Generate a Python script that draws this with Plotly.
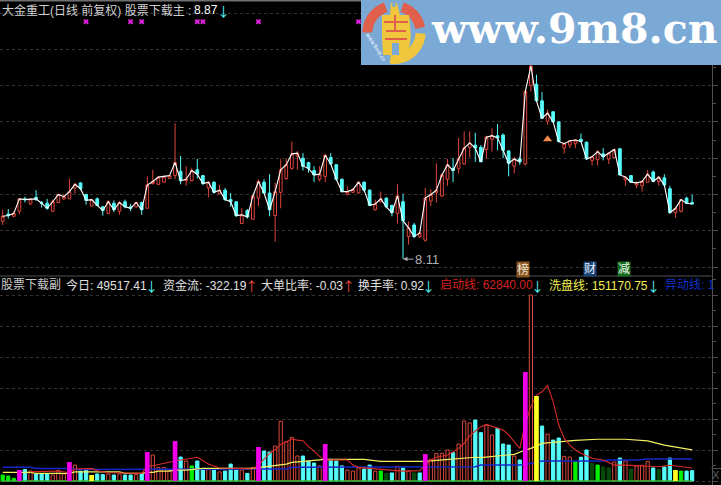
import math
import plotly.graph_objects as go

W, H = 721, 485

# 日K (price)
open_ = [8.63,8.73,8.70,8.77,8.94,8.87,8.96,8.89,8.88,8.77,8.89,8.94,8.94,9.09,9.16,9.00,8.84,8.94,8.83,8.74,8.88,8.77,8.90,8.83,8.83,
         8.89,8.81,9.15,9.14,9.17,9.22,9.26,9.32,9.19,9.19,9.34,9.26,9.09,9.17,9.01,9.06,8.93,8.90,8.60,8.78,8.66,8.95,9.17,9.02,8.71,
         9.03,9.22,9.36,9.53,9.50,9.44,9.33,9.21,9.25,9.51,9.41,9.21,9.00,9.03,9.02,9.17,9.06,8.79,8.90,8.95,8.85,8.74,8.90,8.42,8.58,
         8.42,8.37,8.91,9.03,8.98,9.21,9.36,9.36,9.42,9.65,9.68,9.65,9.62,9.76,9.81,9.82,9.60,9.39,9.49,9.42,10.50,10.52,10.29,10.01,10.14,
         10.00,9.64,9.68,9.70,9.76,9.72,9.47,9.48,9.56,9.49,9.51,9.63,9.20,9.26,9.13,9.12,9.17,9.31,9.18,9.23,9.08,8.75,8.77,8.95,8.89]
high = [8.79,8.80,8.77,8.95,8.97,8.95,9.06,8.91,8.94,8.93,9.01,9.01,9.22,9.16,9.17,9.01,8.94,8.96,8.84,8.92,8.92,8.91,8.93,8.87,8.90,
        8.90,9.25,9.34,9.25,9.26,9.27,9.98,9.53,9.39,9.37,9.49,9.27,9.18,9.18,9.13,9.09,9.02,8.90,8.81,8.80,9.00,9.21,9.21,9.28,9.16,
        9.49,9.50,9.73,9.60,9.57,9.45,9.39,9.39,9.56,9.57,9.42,9.22,9.11,9.09,9.17,9.18,9.07,8.93,9.04,8.96,8.86,9.14,9.01,8.63,8.61,
        8.49,9.09,9.07,9.43,9.29,9.49,9.50,9.78,9.87,9.87,9.85,9.68,9.81,9.91,9.97,9.84,9.61,9.52,9.52,10.43,10.81,10.65,10.41,10.17,10.14,
        10.01,9.72,9.75,9.76,9.84,9.73,9.53,9.61,9.64,9.58,9.62,9.64,9.25,9.26,9.18,9.19,9.34,9.33,9.25,9.28,9.12,8.83,8.94,8.97,9.00]
low = [8.58,8.67,8.69,8.73,8.89,8.86,8.91,8.82,8.79,8.76,8.88,8.93,8.94,9.01,9.06,8.86,8.84,8.84,8.71,8.73,8.76,8.72,8.81,8.77,8.82,
       8.72,8.81,9.14,9.13,9.17,9.22,9.21,9.14,9.12,9.18,9.22,9.13,8.96,9.01,9.00,8.91,8.83,8.69,8.60,8.67,8.65,8.84,9.01,8.70,8.35,
       8.81,9.20,9.34,9.34,9.33,9.30,9.17,9.18,9.17,9.42,9.19,9.03,8.99,9.02,9.01,9.04,8.84,8.78,8.89,8.81,8.70,8.60,8.11,8.31,8.40,
       8.40,8.35,8.84,8.89,8.96,9.12,9.17,9.29,9.41,9.51,9.45,9.45,9.49,9.59,9.61,9.50,9.25,9.29,9.41,9.40,10.42,10.29,10.04,9.96,9.99,
       9.72,9.56,9.64,9.64,9.72,9.48,9.40,9.40,9.47,9.42,9.50,9.27,9.12,9.16,9.09,9.04,9.17,9.17,9.12,9.12,8.74,8.68,8.75,8.87,8.86]
close = [8.70,8.71,8.74,8.94,8.93,8.94,8.94,8.88,8.81,8.90,9.00,8.97,9.04,9.14,9.08,8.92,8.93,8.85,8.78,8.90,8.79,8.89,8.83,8.81,8.89,
         8.79,9.13,9.18,9.24,9.25,9.26,9.44,9.19,9.21,9.33,9.28,9.15,9.17,9.03,9.06,8.93,8.90,8.71,8.72,8.69,8.98,9.18,9.02,8.79,9.04,
         9.34,9.41,9.56,9.57,9.39,9.36,9.27,9.28,9.54,9.42,9.21,9.04,9.04,9.07,9.17,9.06,8.85,8.87,8.94,8.83,8.75,8.98,8.64,8.54,8.42,
         8.47,8.95,9.00,9.06,9.27,9.41,9.33,9.49,9.64,9.71,9.64,9.45,9.79,9.81,9.78,9.61,9.43,9.49,9.45,10.42,10.77,10.29,10.05,10.12,10.00,
         9.73,9.70,9.74,9.75,9.73,9.49,9.52,9.59,9.52,9.57,9.62,9.27,9.24,9.17,9.16,9.18,9.28,9.18,9.24,9.13,8.75,8.81,8.93,8.88,8.87]
days = list(range(len(close)))

signal_days = [15, 23, 25, 35, 36, 46, 64]
signal_level = 11.38
orange_day, orange_price = 98, 9.76
low_day, low_price = 72, 8.11

# 成交量 (千)
volume = [29,24,13,53,56,48,34,34,35,29,52,34,92,77,48,53,29,34,31,34,29,34,29,29,31,
          34,140,126,66,66,50,194,116,97,73,97,53,56,53,44,48,82,53,53,37,65,165,145,140,169,
          289,190,211,121,121,95,87,73,179,105,97,73,53,48,63,58,77,48,48,37,39,71,63,48,39,
          39,131,105,134,134,150,137,179,290,281,295,234,271,223,255,179,174,121,102,527,900,411,266,227,198,
          208,119,116,92,115,150,85,77,68,63,92,111,97,58,73,76,95,63,56,68,111,53,48,48,50]
# R 红空心 C 青 M 品红 Y 黄 G 亮绿 D 暗绿
bar_kind = list("GGGMCRCCCRRRMRCCYCCRCRCCRCMRRRRMCRGCCRCRCCC"
                "RCRMCCRRRRRCCCRMCCCRRRCCRGDCRCRDCMRRRRCRRRCCRRCCCRCMRYCRCCRRGCCDGDDRCRDRRRCDCCYGCC")

start_days = [5,10,12,13,16,17,19,25,26,27,31,33,35,37,39,42,45,46,48,49,50,51,52,53,54,55,56,57,58,59,62,63,64,66,68,70,72,75,76,77,78,80,81,82,83,84,85,
              86,87,88,89,90,91,92,93,94,95,96,97,98,99,100,101,102,103,104,105,106,108,110,112,115,118,120,122,124]
start_line = [45,48,40,58,61,50,40,37,71,74,97,105,115,82,63,61,58,77,134,150,177,190,203,198,195,166,145,118,102,103,102,77,66,61,56,50,48,50,77,102,115,126,142,158,182,218,242,
              263,274,266,255,247,223,190,158,279,360,416,432,463,384,271,206,174,150,134,121,110,102,77,77,73,69,76,69,63]
wash_days = [0,5,6,12,13,21,22,25,26,27,28,30,31,33,36,45,46,47,49,51,52,54,56,58,65,68,75,76,78,80,82,85,86,88,92,94,95,97,100,103,107,112,116,119,124]
wash_line = [42,42,37,37,44,44,37,37,42,42,48,48,53,53,61,61,65,69,76,82,90,94,100,105,105,95,95,95,100,105,108,115,113,118,129,150,158,182,189,197,202,202,194,174,151]
move_days = [0,5,6,12,13,46,47,51,52,58,59,85,86,93,95,97,108,109,114,116,124]
move_line = [66,66,61,61,56,56,58,58,66,66,69,69,77,77,85,97,97,102,102,106,106]

RED = "#e0463c"
CYAN = "#55fcfc"
BAR_FILL = {"R": "#000000", "C": CYAN, "M": "#f000e8", "Y": "#ffff20", "G": "#00f000", "D": "#064a0a"}
BAR_EDGE = {"R": "#d8483c", "C": CYAN, "M": "#f000e8", "Y": "#ffff20", "G": "#00f000", "D": "#064a0a"}
LOGO_BLUE = "#7ba9d6"
LOGO_RED = "#e0604c"
LOGO_YELLOW = "#f0c63c"
TEXT_FONT = "Liberation Sans, Noto Sans CJK SC"
ARROW_FONT = "Noto Sans CJK SC"

PANEL_SPLIT = 276      # 上下图分界
AXIS_X = 711.5


def px(x):
    return x / W


def py(y):
    return 1 - y / H


x_range = [-0.486, (AXIS_X - 2.7) / 5.56]
price_range = [9 + (194.5 - PANEL_SPLIT) / 72.6, 9 + 194.5 / 72.6]
vol_range = [(481 - H) * 4.84, (481 - PANEL_SPLIT) * 4.84]

fig = go.Figure()

fig.add_trace(go.Candlestick(
    x=days, open=open_, high=high, low=low, close=close, whiskerwidth=0,
    increasing=dict(line=dict(color=RED, width=1), fillcolor="#000000"),
    decreasing=dict(line=dict(color=CYAN, width=1), fillcolor=CYAN),
    xaxis="x", yaxis="y", showlegend=False,
))
fig.add_trace(go.Scatter(x=days, y=close, mode="lines", line=dict(color="#ffffff", width=1.1), xaxis="x", yaxis="y"))
fig.add_trace(go.Scatter(x=signal_days, y=[signal_level] * len(signal_days), mode="markers",
                         marker=dict(symbol="x", size=5, color="#e020e0"), xaxis="x", yaxis="y"))
fig.add_trace(go.Scatter(x=[orange_day], y=[orange_price], mode="markers",
                         marker=dict(symbol="triangle-up", size=8, color="#f08848"), xaxis="x", yaxis="y"))

# 下图: 普通柱在线下面, 品红/黄柱盖住线
under = [i for i in days if bar_kind[i] not in "MY"]
over = [i for i in days if bar_kind[i] in "MY"]
fig.add_trace(go.Bar(
    x=under, y=[volume[i] for i in under], width=0.58,
    marker=dict(color=[BAR_FILL[bar_kind[i]] for i in under],
                line=dict(color=[BAR_EDGE[bar_kind[i]] for i in under], width=1)),
    xaxis="x2", yaxis="y2",
))
fig.add_trace(go.Scatter(x=days, y=[0] * len(days), mode="lines", line=dict(color="#38b838", width=1.5), xaxis="x2", yaxis="y2"))
fig.add_trace(go.Scatter(x=move_days, y=move_line, mode="lines", line=dict(color="#1428c8", width=1.5), xaxis="x2", yaxis="y2"))
fig.add_trace(go.Scatter(x=wash_days, y=wash_line, mode="lines", line=dict(color="#f4f060", width=1.2), xaxis="x2", yaxis="y2"))
fig.add_trace(go.Scatter(x=start_days, y=start_line, mode="lines", line=dict(color="#d82c28", width=1.1), xaxis="x2", yaxis="y2"))
fig.add_trace(go.Bar(
    x=over, y=[volume[i] for i in over], width=0.85,
    marker=dict(color=[BAR_FILL[bar_kind[i]] for i in over], line=dict(width=0)),
    xaxis="x2", yaxis="y3",
))

# 文字
annotations = []


def label(x, y, text, color="#d0d0d0", size=12, family=TEXT_FONT, anchor="left", **kw):
    annotations.append(dict(xref="paper", yref="paper", x=px(x), y=py(y), text=text, showarrow=False,
                            xanchor=anchor, yanchor="middle", font=dict(family=family, size=size, color=color),
                            borderpad=0, **kw))


def arrow(x, y, text, color):
    label(x, y, text, color=color, size=13, family=ARROW_FONT, anchor="center")


label(1, 10, "大金重工(日线 前复权) 股票下载主 :")
label(193, 10, "8.87", color="#ffffff")
arrow(224, 10, "↓", CYAN)

y_sub = 285
label(0, y_sub, "股票下载副", color="#c8c8c8")
label(65, y_sub, "今日: 49517.41", color="#e0e0e0")
arrow(151, y_sub, "↓", CYAN)
label(162, y_sub, "资金流: -322.19", color="#e0e0e0")
arrow(251, y_sub, "↑", "#f04848")
label(260, y_sub, "大单比率: -0.03", color="#e0e0e0")
arrow(348, y_sub, "↑", "#f04848")
label(357, y_sub, "换手率: 0.92", color="#e0e0e0")
arrow(429, y_sub, "↓", CYAN)
label(439, y_sub, "启动线: 62840.00", color="#d82020")
arrow(537, y_sub, "↓", CYAN)
label(548, y_sub, "洗盘线: 151170.75", color="#f4f050")
arrow(653, y_sub, "↓", CYAN)
label(664, y_sub, "异动线: 1", color="#1030c8")

label(522.5, 269, "榜", color="#f0e8d8", size=12, anchor="center", bgcolor="#8a5420")
label(589.5, 269, "财", color="#e8f0f8", size=12, anchor="center", bgcolor="#1c4478")
label(623.5, 269, "减", color="#e8f8e8", size=12, anchor="center", bgcolor="#166a1c")
label(716, 475, "X", color="#606060", size=11, anchor="center")

annotations.append(dict(
    xref="x", yref="y", x=low_day, y=low_price, text=str(low_price), showarrow=True, ax=24, ay=0,
    arrowcolor="#a8a8a8", arrowwidth=1, arrowhead=2, arrowsize=0.9,
    font=dict(family="Liberation Sans", size=13, color="#b0b0b0"),
))

label(574, 28.5, "www.9m8.cn", color="#ffffff", size=41, family="DejaVu Serif", anchor="center")
annotations[-1]["font"]["weight"] = "bold"
label(376, 47, "www.9m8.cn", color="#ffffff", size=5, family="DejaVu Sans", anchor="center", textangle=58)

# 水印 logo
CX, CY, R_MID = 394, 32.5, 26.5


def arc_path(a0, a1, n=40):
    pts = []
    for k in range(n + 1):
        a = math.radians(a0 + (a1 - a0) * k / n)
        pts.append(f"{px(CX + R_MID * math.cos(a)):.4f},{py(CY - R_MID * math.sin(a)):.4f}")
    return "M" + " L".join(pts)


def poly_path(points):
    return "M" + " L".join(f"{px(x):.4f},{py(y):.4f}" for x, y in points) + " Z"


def box(x0, y0, x1, y1, color, layer="above"):
    return dict(type="rect", xref="paper", yref="paper", x0=px(x0), x1=px(x1), y0=py(y0), y1=py(y1),
                fillcolor=color, line=dict(width=0), layer=layer)


shapes = [
    box(0, 0, W, 1.5, "#707070", layer="below"),
    box(0, PANEL_SPLIT - 0.5, AXIS_X, PANEL_SPLIT + 0.5, "#505050", layer="below"),
    box(AXIS_X, 468, W, 469, "#505050", layer="below"),
    box(361, 0, W, 65, LOGO_BLUE),
    dict(type="path", xref="paper", yref="paper", path=arc_path(180, 108), line=dict(color=LOGO_RED, width=10), layer="above"),
    dict(type="path", xref="paper", yref="paper", path=arc_path(72, 10), line=dict(color=LOGO_RED, width=10), layer="above"),
    dict(type="path", xref="paper", yref="paper", path=arc_path(-2, -98), line=dict(color=LOGO_YELLOW, width=10), layer="above"),
    dict(type="path", xref="paper", yref="paper", line=dict(width=0), fillcolor=LOGO_YELLOW, layer="above",
         path=poly_path([(391, 3), (397, 3), (400, 15), (409, 15), (411, 36), (408, 55), (383, 55), (382, 36), (382, 15), (390, 15)])),
    dict(type="circle", xref="paper", yref="paper", x0=px(392), x1=px(396), y0=py(3), y1=py(7), fillcolor=LOGO_BLUE, line=dict(width=0), layer="above"),
    box(384, 21, 408, 23, LOGO_RED),
    box(394, 15, 396, 32, LOGO_RED),
    box(386, 30, 406, 32, LOGO_RED),
    box(385, 38, 407, 40, LOGO_RED),
    box(392, 43, 399, 55, LOGO_BLUE),
]

fig.update_layout(
    width=W, height=H, margin=dict(l=0, r=0, t=0, b=0), paper_bgcolor="#000000", plot_bgcolor="#000000",
    showlegend=False, barmode="overlay", annotations=annotations, shapes=shapes,
    xaxis=dict(domain=[0, AXIS_X / W], range=x_range, visible=False, rangeslider=dict(visible=False), anchor="y"),
    xaxis2=dict(domain=[0, AXIS_X / W], range=x_range, visible=False, anchor="y2"),
    yaxis=dict(domain=[(H - PANEL_SPLIT) / H, 1], range=price_range, side="right", anchor="x", showticklabels=False,
               showgrid=True, gridcolor="#343434", griddash="dot", gridwidth=1, tick0=8.5, dtick=0.5, zeroline=False,
               showline=True, linecolor="#505050", linewidth=1, ticks="outside", ticklen=5, tickcolor="#505050",
               minor=dict(dtick=0.25, tick0=8.5, ticks="outside", ticklen=3, tickcolor="#505050", showgrid=False)),
    yaxis2=dict(domain=[0, (H - PANEL_SPLIT) / H], range=vol_range, side="right", anchor="x2", showticklabels=False,
                showgrid=True, gridcolor="#343434", griddash="dot", gridwidth=1, tick0=0, dtick=150, zeroline=False,
                showline=True, linecolor="#505050", linewidth=1, ticks="outside", ticklen=5, tickcolor="#505050",
                minor=dict(dtick=75, tick0=0, ticks="outside", ticklen=3, tickcolor="#505050", showgrid=False)),
    yaxis3=dict(range=vol_range, overlaying="y2", anchor="x2", visible=False),
)

# 页面默认留白去掉
fig.write_html("out.html", config=dict(displayModeBar=False),
               post_script="document.body.style.margin='0';document.body.style.background='#000';")
